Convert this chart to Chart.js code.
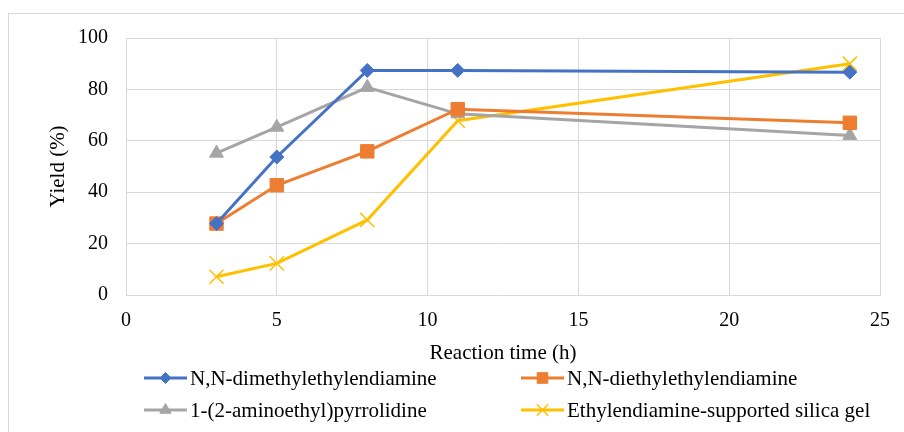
<!DOCTYPE html>
<html>
<head>
<meta charset="utf-8">
<script src="https://cdn.jsdelivr.net/npm/chart.js@4"></script>
<style>
  html, body { margin: 0; padding: 0; background: #fff; }
  #wrap { width: 904px; height: 432px; position: relative; }
</style>
</head>
<body>
<div id="wrap"><canvas id="chart" width="904" height="432"></canvas></div>
<script>
// ---- Data ----
const hours = [3, 5, 8, 11, 24];
const dimethyl = [27.8, 53.7, 87.4, 87.4, 86.7];
const diethyl = [27.8, 42.7, 55.9, 72.3, 67.0];
const pyrrolidine = [55.2, 65.3, 80.8, 70.5, 62.1];
const silicaGel = [7.1, 12.3, 29.2, 67.8, 90.0];
const xTicks = [0, 5, 10, 15, 20, 25];
const yTicks = [0, 20, 40, 60, 80, 100];

const FONT = "'Liberation Serif', 'Times New Roman', serif";

function pts(values) {
  return hours.map((h, i) => ({ x: h, y: values[i] }));
}

const datasets = [
  { label: "N,N-dimethylethylendiamine", data: pts(dimethyl), color: "#4472C4", pointStyle: "rectRot", pointRadius: 7, legendRadius: 5.5 },
  { label: "N,N-diethylethylendiamine", data: pts(diethyl), color: "#ED7D31", pointStyle: "rect", pointRadius: 9.5, legendRadius: 7.5 },
  { label: "1-(2-aminoethyl)pyrrolidine", data: pts(pyrrolidine), color: "#A5A5A5", pointStyle: "triangle", pointRadius: 8, legendRadius: 6.5 },
  { label: "Ethylendiamine-supported silica gel", data: pts(silicaGel), color: "#FFC000", pointStyle: "crossRot", pointRadius: 10, legendRadius: 8 }
].map(d => ({
  label: d.label,
  data: d.data,
  borderColor: d.color,
  backgroundColor: d.color,
  pointBackgroundColor: d.color,
  pointBorderColor: d.color,
  pointBorderWidth: d.pointStyle === "crossRot" ? 1.5 : 1,
  pointStyle: d.pointStyle,
  pointRadius: d.pointRadius,
  legendRadius: d.legendRadius,
  borderWidth: 3,
  tension: 0,
  fill: false
}));

// ---- Frame + Excel-like legend (line with marker) ----
const excelLegend = {
  id: "excelLegend",
  beforeDraw(chart) {
    const ctx = chart.ctx;
    ctx.save();
    ctx.strokeStyle = "#d9d9d9";
    ctx.lineWidth = 1;
    ctx.strokeRect(8.5, 13.5, 1000, 1000);
    ctx.restore();
  },
  afterDraw(chart) {
    const ctx = chart.ctx;
    const slots = [
      { x: 144, y: 378 }, { x: 521, y: 378 },
      { x: 144, y: 410 }, { x: 521, y: 410 }
    ];
    ctx.save();
    chart.data.datasets.forEach((ds, i) => {
      const s = slots[i];
      ctx.strokeStyle = ds.borderColor;
      ctx.lineWidth = 3;
      ctx.beginPath();
      ctx.moveTo(s.x, s.y);
      ctx.lineTo(s.x + 43, s.y);
      ctx.stroke();
      ctx.fillStyle = ds.borderColor;
      ctx.lineWidth = ds.pointBorderWidth;
      Chart.helpers.drawPoint(ctx, {
        pointStyle: ds.pointStyle,
        radius: ds.legendRadius,
        rotation: 0,
        borderWidth: ds.pointBorderWidth
      }, s.x + 21.5, s.y);
      ctx.fillStyle = "#000";
      ctx.font = "21px " + FONT;
      ctx.textBaseline = "middle";
      ctx.textAlign = "left";
      ctx.fillText(ds.label, s.x + 46, s.y + 1);
    });
    ctx.restore();
  }
};

new Chart(document.getElementById("chart"), {
  type: "line",
  data: { datasets },
  plugins: [excelLegend],
  options: {
    responsive: false,
    animation: false,
    events: [],
    layout: { padding: { left: 42, right: 24, top: 38, bottom: 62 } },
    plugins: {
      legend: { display: false },
      tooltip: { enabled: false }
    },
    scales: {
      x: {
        type: "linear",
        min: 0,
        max: 25,
        afterBuildTicks: s => { s.ticks = xTicks.map(v => ({ value: v })); },
        afterFit: s => { s.height = 75; },
        grid: { color: "#d9d9d9", lineWidth: 1, drawTicks: false },
        border: { color: "#d9d9d9" },
        ticks: { color: "#000", padding: 14, font: { family: FONT, size: 20 } },
        title: {
          display: true,
          text: "Reaction time (h)",
          color: "#000",
          font: { family: FONT, size: 21 },
          padding: { top: 0, bottom: 4 }
        }
      },
      y: {
        min: 0,
        max: 100,
        afterBuildTicks: s => { s.ticks = yTicks.map(v => ({ value: v })); },
        afterFit: s => { s.width = 84; },
        grid: { color: "#d9d9d9", lineWidth: 1, drawTicks: false },
        border: { color: "#d9d9d9" },
        ticks: { color: "#000", padding: 18, font: { family: FONT, size: 20 } },
        title: {
          display: true,
          text: "Yield (%)",
          color: "#000",
          font: { family: FONT, size: 21 },
          padding: { top: 4, bottom: 4 }
        }
      }
    }
  }
});
</script>
</body>
</html>
